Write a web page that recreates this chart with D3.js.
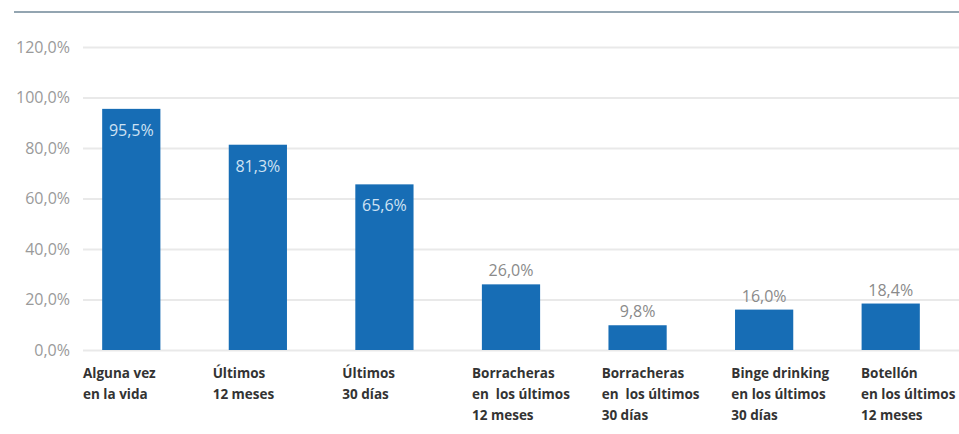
<!DOCTYPE html>
<html>
<head>
<meta charset="utf-8">
<script src="https://cdn.jsdelivr.net/npm/d3@7"></script>
<style>
  html, body { margin: 0; padding: 0; background: #fff; }
  svg { display: block; }
</style>
</head>
<body>
<svg id="chart" width="959" height="434"></svg>
<script>
const categories = [
  ["Alguna vez", "en la vida"],
  ["Últimos", "12 meses"],
  ["Últimos", "30 días"],
  ["Borracheras", "en  los últimos", "12 meses"],
  ["Borracheras", "en  los últimos", "30 días"],
  ["Binge drinking", "en los últimos", "30 días"],
  ["Botellón", "en los últimos", "12 meses"]
];
const values = [95.5, 81.3, 65.6, 26.0, 9.8, 16.0, 18.4];
const yTicks = [0, 20, 40, 60, 80, 100, 120];

const svg = d3.select("#chart");
const W = 959, H = 434;
const fmt = v => d3.format(".1f")(v).replace(".", ",") + "%";

const ids = categories.map((c, i) => i);
const x = d3.scaleBand().domain(ids).range([68, 954]).paddingInner(0.54).paddingOuter(0.27);
const xl = d3.scalePoint().domain(ids).range([83, 861]);
const y = d3.scaleLinear().domain([0, 120]).range([350, 47]);

// top rule
svg.append("line").attr("x1", 14).attr("x2", W).attr("y1", 12).attr("y2", 12)
  .attr("stroke", "#6f8797").attr("stroke-width", 1.5);

// grid
const yAxis = d3.axisLeft(y).tickValues(yTicks).tickSize(-(W - 83)).tickFormat(fmt);
const gy = svg.append("g").attr("transform", "translate(83,0)").call(yAxis);
gy.select(".domain").remove();
gy.selectAll(".tick line").attr("stroke", "#e9e9e9").attr("stroke-width", 2);
gy.selectAll(".tick text").attr("x", -13).attr("fill", "#9a9a9a")
  .attr("font-family", "'Liberation Sans Narrow', 'Open Sans', sans-serif")
  .attr("font-size", 16);

// bars
svg.append("g").selectAll("rect").data(values).join("rect")
  .attr("x", (d, i) => x(i)).attr("width", x.bandwidth())
  .attr("y", d => y(d)).attr("height", d => y(0) - y(d))
  .attr("fill", "#176db5");

// value labels
svg.append("g").selectAll("text").data(values).join("text")
  .attr("x", (d, i) => x(i) + x.bandwidth() / 2)
  .attr("y", d => d > 50 ? y(d) + 27 : y(d) - 8)
  .attr("text-anchor", "middle")
  .attr("font-family", "'Liberation Sans Narrow', 'Open Sans', sans-serif")
  .attr("font-size", 16)
  .attr("fill", d => d > 50 ? "#cfe2f3" : "#8a8a8a")
  .text(d => fmt(d));

// category labels
const gc = svg.append("g");
categories.forEach((lines, i) => {
  const t = gc.append("text")
    .attr("x", xl(i)).attr("y", 378)
    .attr("font-family", "'Open Sans', sans-serif")
    .attr("font-weight", "bold").attr("font-size", 13.5)
    .attr("fill", "#333")
    .attr("xml:space", "preserve");
  lines.forEach((ln, j) => {
    t.append("tspan").attr("x", xl(i)).attr("dy", j === 0 ? 0 : 21).text(ln);
  });
});
</script>
</body>
</html>
